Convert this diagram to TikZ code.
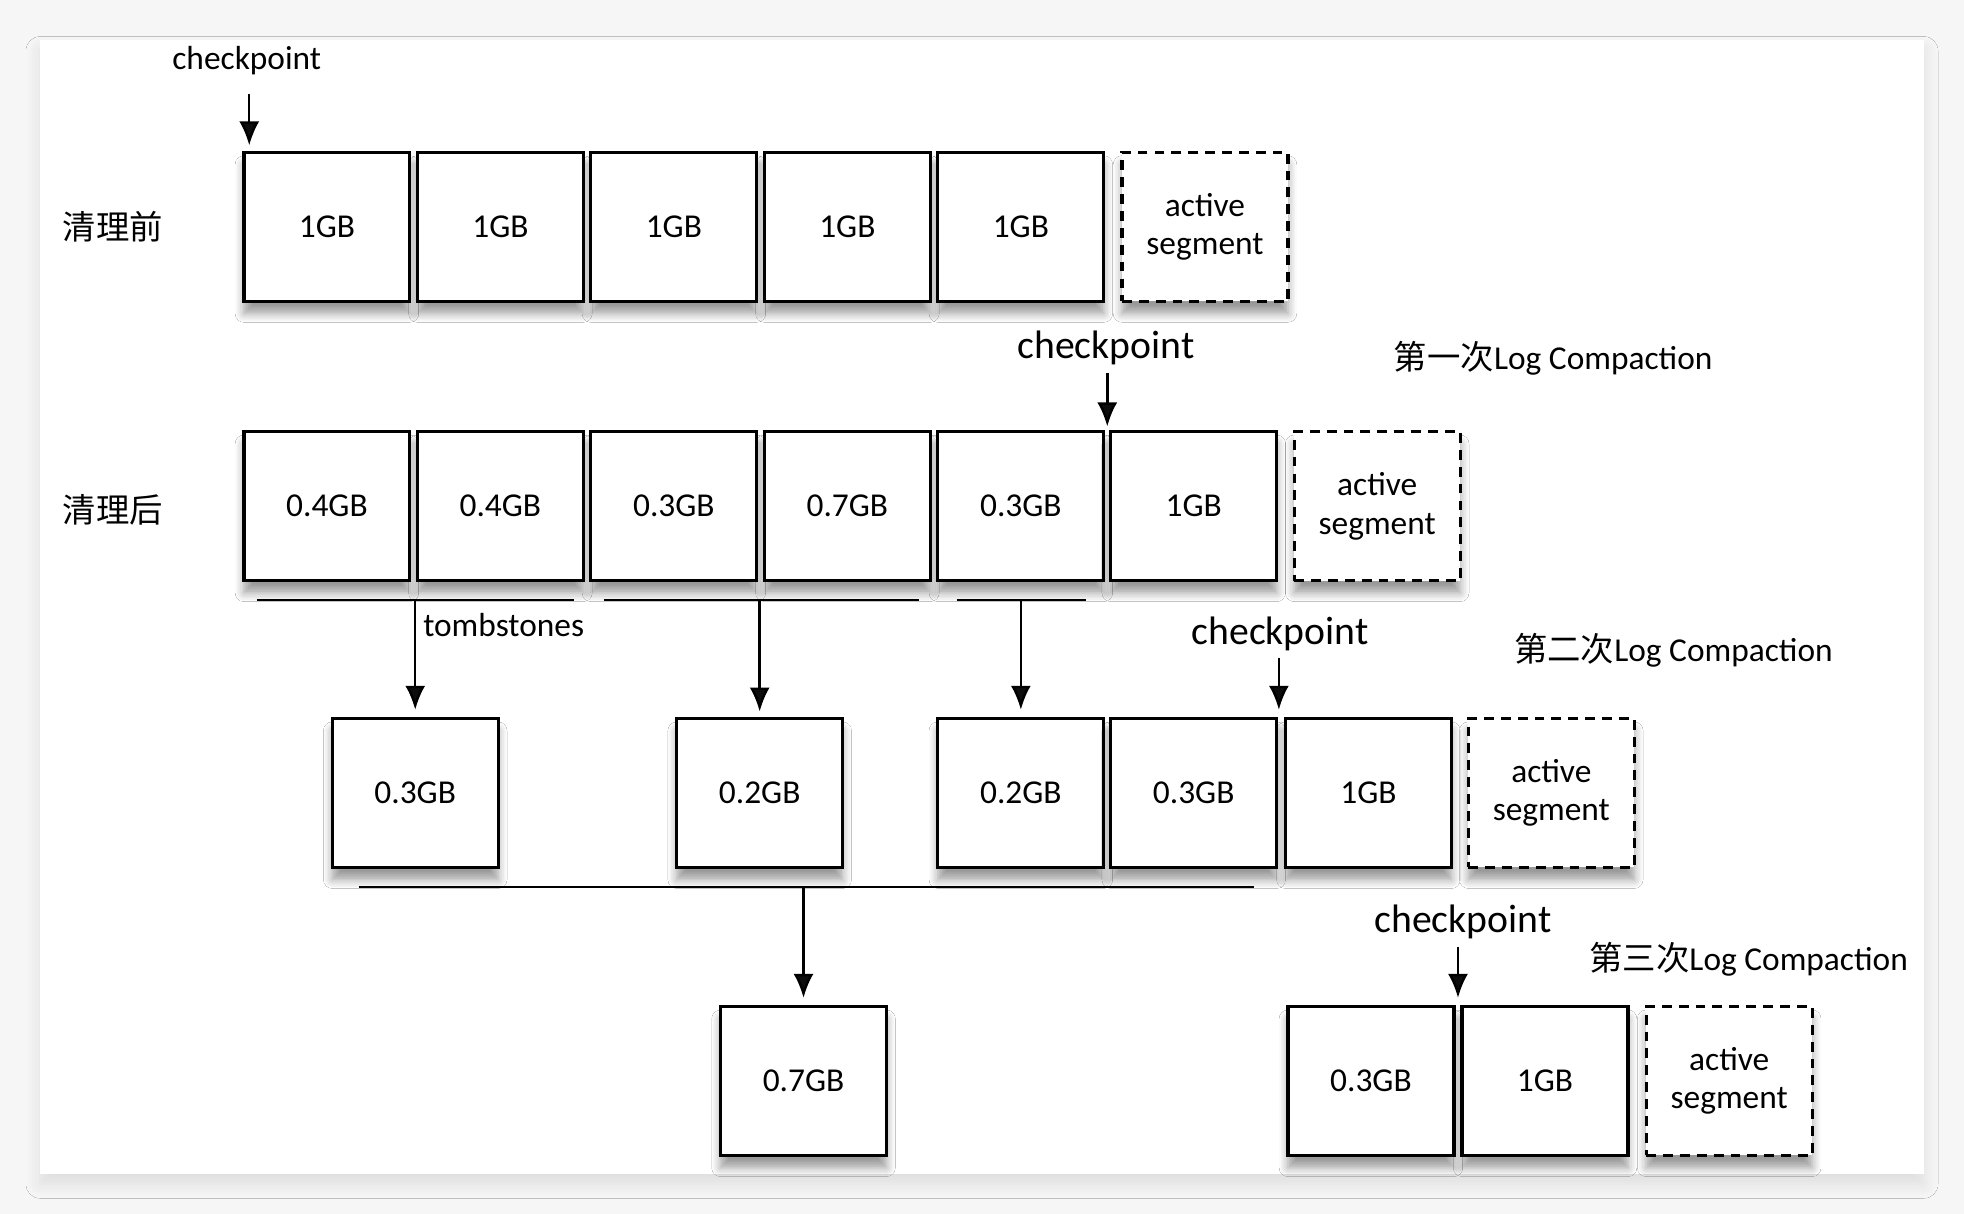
\documentclass[tikz,border=0pt]{standalone}
\usepackage{fontspec}
\setmainfont{Carlito}
\newfontfamily\cjk{Noto Sans CJK SC}
\usepackage{tikz}
\usetikzlibrary{arrows.meta}
\usetikzlibrary{shadows.blur}
\tikzset{>={Latex[length=2.4mm,width=2mm]}}
\definecolor{pagebg}{RGB}{246,246,246}

\begin{document}
\begin{tikzpicture}[x=0.012526cm,y=-0.012526cm,
    seg/.style = {draw, line width=0.9pt, fill=white, inner sep=0pt,
        minimum width=1.66cm, minimum height=1.49cm, align=center,
        font=\fontsize{9.5}{11}\selectfont,
        blur shadow={shadow xshift=0pt, shadow yshift=-3.5pt, shadow blur radius=2.5pt, shadow blur steps=6, shadow opacity=40}},
    act/.style = {seg, dash pattern=on 2.8pt off 2pt},
    cp/.style = {font=\fontsize{11.3}{13}\selectfont},
    note/.style = {font=\fontsize{9.5}{12}\selectfont},
    link/.style = {line width=0.7pt}]
\fill[pagebg] (0,0) rectangle (1568,969.2);
\fill[white, blur shadow={shadow xshift=0pt, shadow yshift=-3pt, shadow blur radius=4pt, shadow blur steps=8, shadow opacity=10}] (32,32) rectangle (1536,937);
\begin{scope}
    % before cleaning
    \node[note] (pre) at (90,181) {\cjk 清理前};
    \node[seg] (a1) at (261,181) {1GB};
    \node[seg] (a2) at (399.5,181) {1GB};
    \node[seg] (a3) at (538,181) {1GB};
    \node[seg] (a4) at (676.5,181) {1GB};
    \node[seg] (a5) at (815,181) {1GB};
    \node[act] (a6) at (962,181) {active\\segment};
    \node[note] (cpa) at (197,48) {checkpoint};
    \coordinate (ca) at (199,75);
    \draw[link,->,shorten >=1.5pt] (ca) -- (ca |- a1.north);

    % first compaction
    \node[note] (post) at (90,407) {\cjk 清理后};
    \node[seg] (b1) at (261,404) {0.4GB};
    \node[seg] (b2) at (399.5,404) {0.4GB};
    \node[seg] (b3) at (538,404) {0.3GB};
    \node[seg] (b4) at (676.5,404) {0.7GB};
    \node[seg] (b5) at (815,404) {0.3GB};
    \node[seg] (b6) at (953,404) {1GB};
    \node[act] (b7) at (1099.5,404) {active\\segment};
    \node[cp] (cpb) at (883,278) {checkpoint};
    \node[note] (r1) at (1240,286) {{\cjk 第一次}Log Compaction};
    \coordinate (cb) at (884,298);
    \draw[link,->,shorten >=1pt] (cb) -- (cb |- b6.north);

    % second compaction
    \coordinate (t1a) at (205,479); \coordinate (t1b) at (458,479);
    \coordinate (t2a) at (482,479); \coordinate (t2b) at (734,479);
    \coordinate (t3a) at (764,479); \coordinate (t3b) at (867,479);
    \draw[link] (t1a) -- (t1b);
    \draw[link] (t2a) -- (t2b);
    \draw[link] (t3a) -- (t3b);
    \node[seg] (c1) at (331.5,633) {0.3GB};
    \node[seg] (c2) at (606.5,633) {0.2GB};
    \node[seg] (c3) at (815,633) {0.2GB};
    \node[seg] (c4) at (953,633) {0.3GB};
    \node[seg] (c5) at (1092.5,633) {1GB};
    \node[act] (c6) at (1238.5,633) {active\\segment};
    \draw[link,->,shorten >=2pt] (t1a -| c1) -- (c1.north);
    \draw[link,->,shorten >=1.5pt] (t2a -| c2) -- (c2.north);
    \draw[link,->,shorten >=2pt] (t3a -| c3) -- (c3.north);
    \node[note,anchor=west] (tomb) at (328,499) {tombstones};
    \node[cp] (cpc) at (1022,506) {checkpoint};
    \node[note] (r2) at (1336,519) {{\cjk 第二次}Log Compaction};
    \coordinate (cc) at (1021,525);
    \draw[link,->,shorten >=2pt] (cc) -- (cc |- c5.north);

    % third compaction
    \coordinate (t4a) at (287,708); \coordinate (t4b) at (1001,708);
    \draw[link] (t4a) -- (t4b);
    \node[seg] (d1) at (641.5,863) {0.7GB};
    \node[seg] (d2) at (1094.5,863) {0.3GB};
    \node[seg] (d3) at (1233.5,863) {1GB};
    \node[act] (d4) at (1380.5,863) {active\\segment};
    \draw[link,->,shorten >=2pt] (t4a -| d1) -- (d1.north);
    \node[cp] (cpd) at (1168,736) {checkpoint};
    \node[note] (r3) at (1396,766) {{\cjk 第三次}Log Compaction};
    \coordinate (cd) at (1164,756);
    \draw[link,->,shorten >=2pt] (cd) -- (cd |- d2.north);
\end{scope}
\end{tikzpicture}
\end{document}
